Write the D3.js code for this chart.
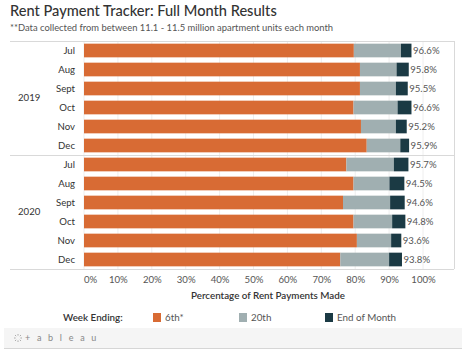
<!DOCTYPE html>
<html><head><meta charset="utf-8">
<script src="https://cdn.jsdelivr.net/npm/d3@7"></script>
<style>
body{margin:0;background:#fff;}
svg{display:block;font-family:Lato,"Open Sans",sans-serif;}
</style></head>
<body>
<svg id="c" width="473" height="358"></svg>
<script>
const years = ["2019","2020"];
const months = ["Jul","Aug","Sept","Oct","Nov","Dec"];
const sixth = [79.6,81.4,81.4,79.5,81.7,83.4, 77.4,79.5,76.4,79.5,80.5,75.6];
const twentieth = [13.9,10.8,10.6,13.0,10.3,9.9, 14.0,10.6,13.9,11.4,10.1,14.4];
const endOfMonth = [3.1,3.6,3.5,4.1,3.2,2.6, 4.3,4.4,4.3,3.9,3.0,3.8];
const totals = ["96.6%","95.8%","95.5%","96.6%","95.2%","95.9%","95.7%","94.5%","94.6%","94.8%","93.6%","93.8%"];
const xTicks = [0,10,20,30,40,50,60,70,80,90,100];
const seriesNames = ["6th*","20th","End of Month"];
const colors = ["#D86B34","#A0AFB1","#1B3A44"];

const svg = d3.select("#c");
const rows = [];
years.forEach((y,i)=>months.forEach((m,j)=>rows.push({key:y+"-"+m,year:y,month:m,idx:i*6+j})));

const x = d3.scaleLinear().domain([0,100]).range([84,423]);
const yScale = d3.scaleBand().domain(rows.map(r=>r.key)).range([41,269]).paddingInner(0.28).paddingOuter(0.14);

// title
svg.append("text").attr("x",10).attr("y",16).attr("font-size",14.6).attr("fill","#333")
  .attr("font-weight",500).text("Rent Payment Tracker: Full Month Results");
svg.append("text").attr("x",10).attr("y",31).attr("font-size",9.4).attr("fill","#555")
  .text("**Data collected from between 11.1 - 11.5 million apartment units each month");

// grid
svg.append("g").selectAll("line").data(xTicks).join("line")
  .attr("x1",d=>x(d)).attr("x2",d=>x(d)).attr("y1",41).attr("y2",269)
  .attr("stroke","#eeeeee").attr("stroke-width",1);

// frame lines
const sepY = [41,155,269];
svg.append("g").selectAll("line").data(sepY).join("line")
  .attr("x1",10).attr("x2",454).attr("y1",d=>d+0.5).attr("y2",d=>d+0.5)
  .attr("stroke","#d9d9d9");
svg.append("line").attr("x1",454.5).attr("x2",454.5).attr("y1",41).attr("y2",269).attr("stroke","#d9d9d9");

// stacks
const stackData = rows.map(r=>({key:r.key,"6th*":sixth[r.idx],"20th":twentieth[r.idx],"End of Month":endOfMonth[r.idx]}));
const stacked = d3.stack().keys(seriesNames)(stackData);
svg.append("g").selectAll("g").data(stacked).join("g")
  .attr("fill",(d,i)=>colors[i])
  .selectAll("rect").data(d=>d).join("rect")
  .attr("x",d=>x(d[0])).attr("width",d=>x(d[1])-x(d[0]))
  .attr("y",d=>yScale(d.data.key)).attr("height",yScale.bandwidth());

// value labels
svg.append("g").selectAll("text").data(rows).join("text")
  .attr("x",r=>x(sixth[r.idx]+twentieth[r.idx]+endOfMonth[r.idx])+1.5)
  .attr("y",r=>yScale(r.key)+yScale.bandwidth()/2)
  .attr("dy","0.35em").attr("font-size",9.6).attr("fill","#555")
  .text(r=>totals[r.idx]);

// month labels
svg.append("g").selectAll("text").data(rows).join("text")
  .attr("x",75).attr("text-anchor","end")
  .attr("y",r=>yScale(r.key)+yScale.bandwidth()/2).attr("dy","0.35em")
  .attr("font-size",9.6).attr("fill","#333").text(r=>r.month);

// year labels
svg.append("g").selectAll("text").data(years).join("text")
  .attr("x",18).attr("y",(d,i)=>98+i*114).attr("dy","0.35em")
  .attr("font-size",9.6).attr("fill","#333").text(d=>d);

// x axis
const xAxis = d3.axisBottom(x).tickValues(xTicks).tickFormat(d=>d+"%").tickSize(0).tickPadding(6);
const ax = svg.append("g").attr("transform","translate(0,270)").call(xAxis);
ax.select(".domain").remove();
ax.selectAll("text").attr("font-size",9.6).attr("fill","#555").attr("font-family","Lato,sans-serif")
  .attr("dx",d=>d===0?6:0);
svg.append("text").attr("x",268).attr("y",299).attr("text-anchor","middle")
  .attr("font-size",9.8).attr("fill","#333").attr("font-weight",600).text("Percentage of Rent Payments Made");

// legend
svg.append("text").attr("x",63).attr("y",318).attr("dy","0.35em").attr("font-size",9.8)
  .attr("fill","#333").attr("font-weight",600).text("Week Ending:");
const legX = [153,239,325];
const lg = svg.append("g").selectAll("g").data(seriesNames).join("g")
  .attr("transform",(d,i)=>`translate(${legX[i]},313)`);
lg.append("rect").attr("width",8).attr("height",9).attr("fill",(d,i)=>colors[i]);
lg.append("text").attr("x",12).attr("y",5).attr("dy","0.35em").attr("font-size",9.8).attr("fill","#555").text(d=>d);

// tableau footer
svg.append("rect").attr("x",4).attr("y",328).attr("width",458).attr("height",20).attr("fill","#f5f5f5");
svg.append("line").attr("x1",4).attr("x2",462).attr("y1",348.5).attr("y2",348.5).attr("stroke","#d6d6d6");
const logo = svg.append("g").attr("transform","translate(18,338)").attr("stroke","#999").attr("stroke-width",0.8);
[[0,-4],[0,4],[-4,0],[4,0],[-3,-3],[3,3],[-3,3],[3,-3]].forEach(([a,b])=>{
  logo.append("line").attr("x1",a*0.6).attr("y1",b*0.6).attr("x2",a).attr("y2",b);
});
svg.append("text").attr("x",25).attr("y",338).attr("dy","0.35em").attr("font-size",9).attr("fill","#888")
  .attr("letter-spacing",2.2).text("+ a b l e a u");
</script>
</body></html>
